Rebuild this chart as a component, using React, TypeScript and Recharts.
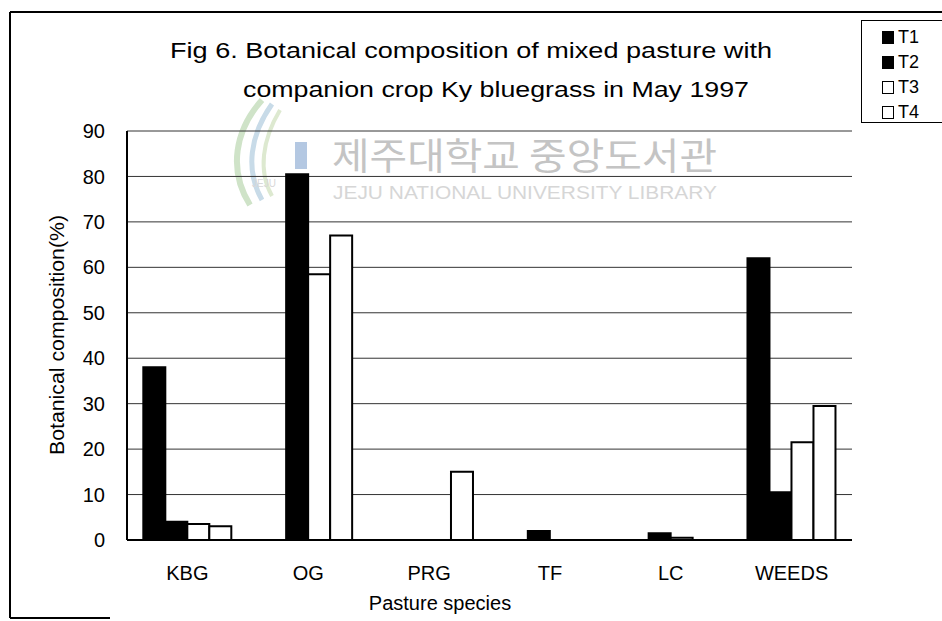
import React from "react";
import { BarChart, Bar, XAxis, YAxis, CartesianGrid } from "recharts";

const categories = ["KBG", "OG", "PRG", "TF", "LC", "WEEDS"];
const t1 = [38, 0, 0, 0, 0, 62];
const t2 = [4, 80.5, 0, 2, 1.5, 10.5];
const t3 = [3.5, 58.5, 0, 0, 0.5, 21.5];
const t4 = [3, 67, 15, 0, 0, 29.5];
const yTicks = [0, 10, 20, 30, 40, 50, 60, 70, 80, 90];
const seriesNames = ["T1", "T2", "T3", "T4"];
const seriesFill = ["#000000", "#000000", "#ffffff", "#ffffff"];

const data = categories.map((c, i) => ({ name: c, T1: t1[i], T2: t2[i], T3: t3[i], T4: t4[i] }));

const FONT = "'Liberation Sans', Arial, sans-serif";

export default function App() {
  return (
    <div style={{ position: "absolute", left: 0, top: 0, width: 942, height: 621, background: "#fff", overflow: "hidden", fontFamily: FONT }}>
      <svg width={942} height={621} style={{ position: "absolute", left: 0, top: 0 }}>
        {/* frame */}
        <line x1={10} y1={12} x2={942} y2={12} stroke="#000" strokeWidth={2} />
        <line x1={10} y1={12} x2={10} y2={618} stroke="#000" strokeWidth={2} />
        <line x1={10} y1={618} x2={110} y2={618} stroke="#000" strokeWidth={2} />
        {/* watermark */}
        <path d="M262 100 C 235 130, 228 170, 250 205" stroke="#cfe3c8" strokeWidth={6} fill="none" />
        <path d="M272 104 C 250 135, 245 170, 262 200" stroke="#c8dbe8" strokeWidth={5} fill="none" />
        <path d="M280 110 C 262 140, 258 172, 272 196" stroke="#dde9d0" strokeWidth={4} fill="none" />
        <text x={252} y={187} fontSize={10} fill="#d8d8d8" fontFamily={FONT}>JEJU</text>
        <rect x={295} y={142} width={12} height={27} fill="#b4c8e2" />
        <text x={332} y={170} fontSize={37} fill="#c4c4c4" fontFamily="'Noto Sans CJK KR', sans-serif" textLength={385} lengthAdjust="spacingAndGlyphs">제주대학교 중앙도서관</text>
        <text x={333} y={199} fontSize={18} fill="#d6d6d6" fontFamily={FONT} textLength={384} lengthAdjust="spacingAndGlyphs">JEJU NATIONAL UNIVERSITY  LIBRARY</text>
        {/* titles */}
        <text x={170} y={58} fontSize={22} fill="#000" fontFamily={FONT} textLength={602} lengthAdjust="spacingAndGlyphs">Fig 6. Botanical composition of mixed pasture with</text>
        <text x={243} y={97} fontSize={22} fill="#000" fontFamily={FONT} textLength={506} lengthAdjust="spacingAndGlyphs">companion crop Ky bluegrass in May 1997</text>
        {/* axis titles */}
        <text x={0} y={0} transform="translate(64,335) rotate(-90)" textAnchor="middle" fontSize={20} fill="#000" fontFamily={FONT} textLength={240} lengthAdjust="spacingAndGlyphs">Botanical composition(%)</text>
        <text x={440} y={610} textAnchor="middle" fontSize={20} fill="#000" fontFamily={FONT}>Pasture species</text>
      </svg>
      <div style={{ position: "absolute", left: 0, top: 0 }}>
        <BarChart
          width={942}
          height={621}
          data={data}
          margin={{ top: 131, right: 90, bottom: 21, left: 40 }}
          barCategoryGap="13.5%"
          barGap={0}
        >
          <CartesianGrid vertical={false} stroke="#333" strokeWidth={1} />
          <XAxis
            dataKey="name"
            height={60}
            tickSize={0}
            tickMargin={26}
            axisLine={{ stroke: "#000", strokeWidth: 2 }}
            tick={{ fontSize: 20, fill: "#000", fontFamily: FONT }}
          />
          <XAxis xAxisId="top" dataKey="name" orientation="top" height={0} tick={false} tickLine={false} axisLine={{ stroke: "#000", strokeWidth: 2 }} />
          <YAxis
            domain={[0, 90]}
            ticks={yTicks}
            width={87}
            tickSize={0}
            tickMargin={22}
            axisLine={{ stroke: "#000", strokeWidth: 2 }}
            tick={{ fontSize: 20, fill: "#000", fontFamily: FONT }}
          />
          <YAxis yAxisId="right" orientation="right" domain={[0, 90]} width={0} tick={false} tickLine={false} axisLine={{ stroke: "#000", strokeWidth: 2 }} />
          {seriesNames.map((s, i) => (
            <Bar key={s} dataKey={s} fill={seriesFill[i]} stroke="#000" strokeWidth={2} isAnimationActive={false} />
          ))}
        </BarChart>
      </div>
      <div style={{ position: "absolute", left: 861, top: 20, width: 130, height: 103, border: "1.5px solid #000", boxSizing: "border-box", background: "#fff" }}>
        {seriesNames.map((s, i) => (
          <div key={s} style={{ position: "absolute", left: 20, top: 8 + i * 25, height: 16, display: "flex", alignItems: "center" }}>
            <span style={{ display: "inline-block", width: 12, height: 13, background: seriesFill[i], border: "1.5px solid #000", boxSizing: "border-box", marginRight: 4 }} />
            <span style={{ fontSize: 18, lineHeight: "16px", color: "#000" }}>{s}</span>
          </div>
        ))}
      </div>
    </div>
  );
}
